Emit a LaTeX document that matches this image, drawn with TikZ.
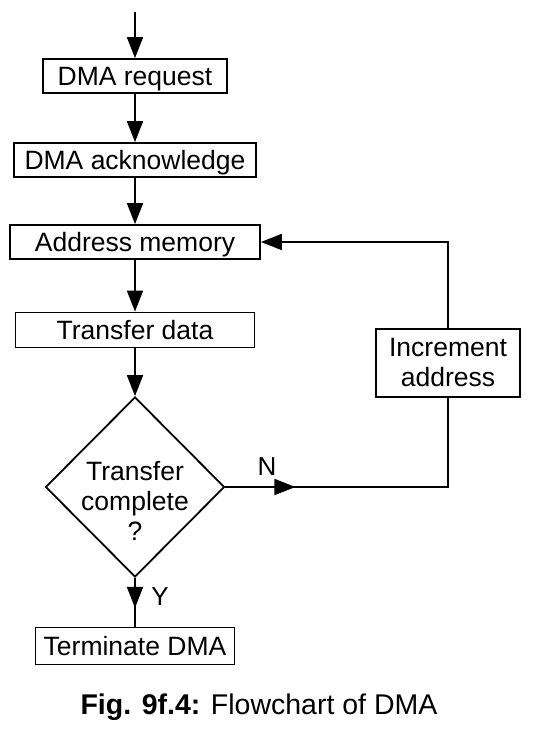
\documentclass[tikz,border=0pt]{standalone}
\usepackage{fontspec}
\setmainfont{Liberation Sans}
\usetikzlibrary{arrows.meta,shapes.geometric,decorations.markings}

\begin{document}
\begin{tikzpicture}[x=1pt,y=-1pt,
  every node/.style={inner sep=0pt},
  boxtext/.style={font=\fontsize{26.5}{30}\selectfont},
  box/.style={draw, line width=1.8pt, boxtext, minimum height=34pt,
    text height=19pt, text depth=0pt},
  tallbox/.style={draw, line width=1.8pt, boxtext, align=center},
  decision/.style={draw, diamond, line width=1.8pt, minimum width=179pt,
    minimum height=180pt},
  flow/.style={line width=1.8pt, -{Triangle[length=21pt,width=16pt]}},
  plain/.style={line width=1.8pt},
  midtip/.style={decoration={markings,
    mark=at position #1 with {\arrow{Triangle[length=21pt,width=16pt]}}},
    postaction={decorate}},
  lbl/.style={font=\fontsize{26}{30}\selectfont}
]
\useasboundingbox (0,0) rectangle (538,736);
\fill[white] (0,0) rectangle (538,736);

% main column of steps
\coordinate (entry) at (135,12);
\node[box, minimum width=184pt] (req) at (135,76) {DMA request};
\node[box, minimum width=242pt] (ack) at (135,160) {DMA acknowledge};
\node[box, minimum width=250pt] (addr) at (135,242) {Address memory};
\node[box, minimum width=239pt, minimum height=35pt] (xfer) at (135,330) {Transfer data};
\node[decision] (dec) at (135,487) {};
\node[boxtext, align=center] (dectext) at (135,501) {Transfer\\complete\\?};
\node[box, minimum width=199pt, minimum height=37pt] (term) at (135,646) {Terminate DMA};

% loop-back step
\node[tallbox, minimum width=144pt, minimum height=68pt] (inc) at (448,363) {Increment\\address};

% connectors
\draw[flow] (entry) -- (req.north);
\draw[flow] (req.south) -- (ack.north);
\draw[flow] (ack.south) -- (addr.north);
\draw[flow] (addr.south) -- (xfer.north);
\draw[flow] (xfer.south) -- (dec.north);
\draw[plain, midtip=30pt] (dec.south) -- (term.north);
\draw[plain, midtip=70pt] (dec.east) -| (inc.south);
\draw[flow] (inc.north) |- (addr.east);

% branch labels
\node[lbl] (nlabel) at (267,467) {N};
\node[lbl] (ylabel) at (160,597) {Y};

% caption
\node[font=\fontsize{28.5}{32}\selectfont] (caption) at (259,707)
  {\textbf{Fig. 9f.4:} Flowchart of DMA};
\end{tikzpicture}
\end{document}
